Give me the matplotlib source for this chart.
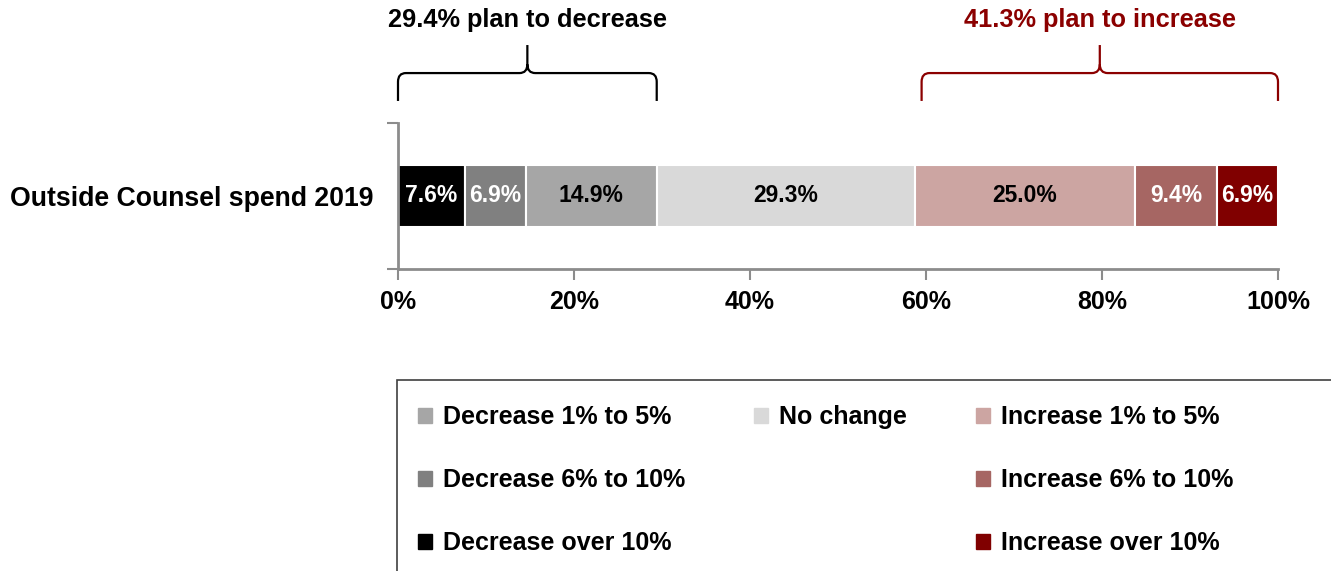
import matplotlib
matplotlib.use('Agg')
import matplotlib.pyplot as plt
import matplotlib.transforms as mtransforms
from matplotlib.path import Path
from matplotlib.patches import PathPatch, Patch, Rectangle

plt.rcParams['font.family'] = ['Liberation Sans', 'DejaVu Sans']
plt.rcParams['font.weight'] = 'bold'

# Data
row_label = 'Outside Counsel spend 2019'
categories = ['Decrease over 10%', 'Decrease 6% to 10%', 'Decrease 1% to 5%', 'No change',
              'Increase 1% to 5%', 'Increase 6% to 10%', 'Increase over 10%']
values = [7.6, 6.9, 14.9, 29.3, 25.0, 9.4, 6.9]
colors = ['#000000', '#808080', '#A6A6A6', '#D9D9D9', '#CCA5A2', '#A66663', '#800000']
label_colors = ['white', 'white', 'black', 'black', 'black', 'white', 'white']
xticks = [0, 20, 40, 60, 80, 100]
decrease_text = '29.4% plan to decrease'
increase_text = '41.3% plan to increase'
dark_red = '#8B0000'

fig = plt.figure(figsize=(13.31, 5.71), dpi=100)
W, H = 1331, 571
ax = fig.add_axes([398 / W, 1 - 269 / H, 880 / W, 146 / H])

left = 0
for val, col, lc in zip(values, colors, label_colors):
    ax.barh(0, val, left=left, height=0.43, color=col, edgecolor='white', linewidth=1.5)
    ax.text(left + val / 2, 0, f'{val:.1f}%', ha='center', va='center',
            color=lc, fontsize=16.5, fontweight='bold')
    left += val

ax.set_xlim(0, 100)
ax.set_ylim(-0.5, 0.5)
ax.set_xticks(xticks)
ax.set_xticklabels([f'{t}%' for t in xticks], fontsize=18, fontweight='bold')
ax.set_yticks([0])
ax.set_yticklabels([row_label], fontsize=19.2, fontweight='bold')
ax.set_yticks([-0.5, 0.5], minor=True)
ax.tick_params(axis='y', which='major', length=0, pad=18)
ax.tick_params(axis='y', which='minor', length=8, width=1.5, color='#8C8C8C', direction='out')
ax.tick_params(axis='x', length=8, width=1.5, color='#8C8C8C', pad=7)
for s in ['top', 'right']:
    ax.spines[s].set_visible(False)
for s in ['left', 'bottom']:
    ax.spines[s].set_color('#8C8C8C')
    ax.spines[s].set_linewidth(2)

# Braces above the bar
trans = mtransforms.blended_transform_factory(ax.transData, ax.transAxes)


def brace(x0, x1, color):
    yb, ym, yt = 1.151, 1.342, 1.534
    rx, ry = 0.9, 0.06
    xc = (x0 + x1) / 2
    verts = [(x0, yb), (x0, ym - ry), (x0, ym), (x0 + rx, ym),
             (xc - rx, ym), (xc, ym), (xc, ym + ry), (xc, yt),
             (xc, ym + ry), (xc, ym), (xc + rx, ym),
             (x1 - rx, ym), (x1, ym), (x1, ym - ry), (x1, yb)]
    codes = [Path.MOVETO, Path.LINETO, Path.CURVE3, Path.CURVE3,
             Path.LINETO, Path.CURVE3, Path.CURVE3, Path.LINETO,
             Path.MOVETO, Path.CURVE3, Path.CURVE3,
             Path.LINETO, Path.CURVE3, Path.CURVE3, Path.LINETO]
    ax.add_patch(PathPatch(Path(verts, codes), facecolor='none', edgecolor=color,
                           linewidth=1.6, transform=trans, clip_on=False))
    return xc


dec_total = sum(values[:3])
inc_start = sum(values[:4])
xc1 = brace(0, dec_total, 'black')
xc2 = brace(inc_start + 0.8, 100, dark_red)
ax.text(xc1, 1.705, decrease_text, transform=trans, ha='center', va='center',
        fontsize=18.3, fontweight='bold', color='black')
ax.text(xc2, 1.705, increase_text, transform=trans, ha='center', va='center',
        fontsize=18.3, fontweight='bold', color=dark_red)

# Legend (column-major order, blanks under "No change")
order = [2, 1, 0, 3, None, None, 4, 5, 6]
handles, labels = [], []
for i in order:
    if i is None:
        handles.append(Patch(color='none'))
        labels.append('')
    else:
        handles.append(Patch(color=colors[i]))
        labels.append(categories[i])
fig.legend(handles, labels, ncol=3, loc='upper left',
           bbox_to_anchor=(418 / W, 1 - 405 / H), frameon=False,
           prop={'size': 18, 'weight': 'bold'}, handlelength=0.56, handleheight=0.56,
           handletextpad=0.44, columnspacing=2.75, labelspacing=1.57,
           borderpad=0, borderaxespad=0)
fig.patches.append(Rectangle((397 / W, -0.1), 1.0, 1 - 380 / H + 0.1,
                             transform=fig.transFigure, fill=False,
                             edgecolor='#404040', linewidth=1.2))

fig.savefig('out.png', dpi=100)
